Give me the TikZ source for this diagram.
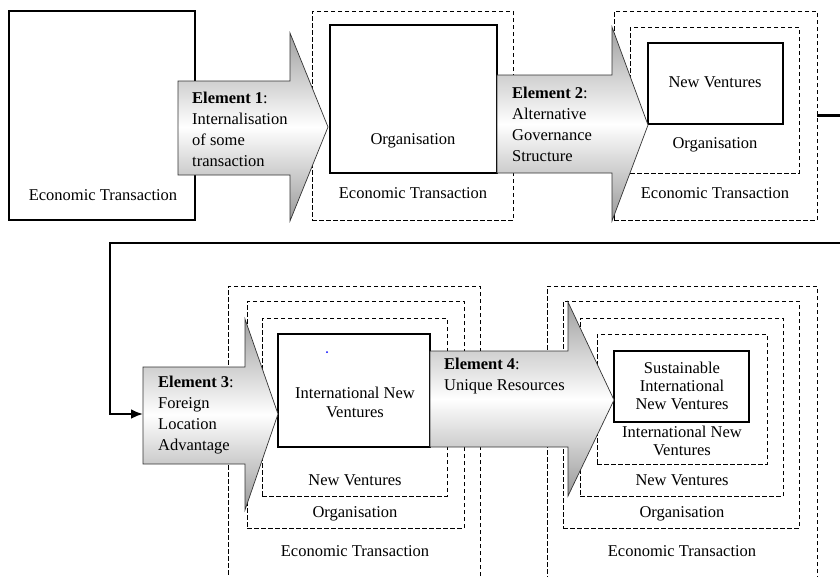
\documentclass[tikz,border=0pt]{standalone}
\usepackage{fontspec}
\setmainfont{Liberation Serif}
\usetikzlibrary{arrows.meta}
\tikzset{
  solidbox/.style={draw, line width=1.1pt, inner sep=0pt},
  dashbox/.style={draw, line width=0.9pt, dash pattern=on 4.5pt off 2.5pt, inner sep=0pt},
  lbl/.style={font=\fontsize{16.5}{19}\selectfont, inner sep=0pt, align=center},
  atxt/.style={font=\fontsize{16.5}{21}\selectfont, inner sep=0pt, align=left, anchor=west},
  arrowbody/.style={top color=gray!75, bottom color=gray!80, middle color=white,
    draw=gray!40!black, line width=0.7pt},
  link/.style={line width=2.4pt, -{Latex[length=12pt,width=10pt]}}
}

\begin{document}
\begin{tikzpicture}[x=1pt, y=-1pt]
    \useasboundingbox (0,0) rectangle (840,576);

    % Top row: the boxes
    \node[solidbox, minimum width=186, minimum height=209] (et1) at (102,115.5) {};
    \node[lbl] (et1txt) at (103,195) {Economic Transaction};

    \node[dashbox, minimum width=201, minimum height=209] (et2) at (412.5,115.5) {};
    \node[solidbox, minimum width=167, minimum height=148] (org2) at (413.5,99) {};
    \node[lbl] (org2txt) at (413,141) {Organisation};
    \node[lbl] (et2txt) at (413,193) {Economic Transaction};

    \node[dashbox, minimum width=203, minimum height=209] (et3) at (715.5,115.5) {};
    \node[dashbox, minimum width=169, minimum height=146] (org3) at (714.5,100) {};
    \node[solidbox, minimum width=135, minimum height=81] (nv3) at (715.5,83.5) {};
    \node[lbl] (nv3txt) at (715,82) {New Ventures};
    \node[lbl] (org3txt) at (715,145) {Organisation};
    \node[lbl] (et3txt) at (715,193) {Economic Transaction};

    % Bottom row: the boxes (open below the page edge)
    \node[dashbox, minimum width=252, minimum height=304] (et4) at (354,438) {};
    \node[dashbox, minimum width=217, minimum height=227] (org4) at (355.5,414.5) {};
    \node[dashbox, minimum width=185, minimum height=178] (nv4) at (354.5,407) {};
    \node[solidbox, minimum width=152, minimum height=113] (inv4) at (354,390.5) {};
    \node[lbl] (inv4txt) at (355,402) {International New\\Ventures};
    \node[lbl] (nv4txt) at (355,480) {New Ventures};
    \node[lbl] (org4txt) at (355,514) {Organisation};
    \node[lbl] (et4txt) at (355,551) {Economic Transaction};
    \fill[blue] (327,352) circle (1);

    \node[dashbox, minimum width=270, minimum height=304] (et5) at (682,438) {};
    \node[dashbox, minimum width=236, minimum height=227] (org5) at (681,414.5) {};
    \node[dashbox, minimum width=203, minimum height=178] (nv5) at (681.5,407) {};
    \node[dashbox, minimum width=170, minimum height=130] (inv5) at (682,399) {};
    \node[solidbox, minimum width=135, minimum height=71] (sinv5) at (681.5,386.5) {};
    \node[lbl, font=\fontsize{16.5}{18}\selectfont] (sinv5txt) at (682,386) {Sustainable\\International\\New Ventures};
    \node[lbl, font=\fontsize{16.5}{18}\selectfont] (inv5txt) at (682,441) {International New\\Ventures};
    \node[lbl] (nv5txt) at (682,480) {New Ventures};
    \node[lbl] (org5txt) at (682,514) {Organisation};
    \node[lbl] (et5txt) at (682,551) {Economic Transaction};

    % Block arrows for the four elements
    \shade[arrowbody] (178,81) -- (290,81) -- (290,33) -- (328,127) -- (290,221) -- (290,175) -- (178,175) -- cycle;
    \node[atxt] (el1) at (192,129.5) {\textbf{Element 1}:\\Internalisation\\of some\\transaction};

    \shade[arrowbody] (497,75) -- (612,75) -- (612,27) -- (648,125) -- (612,221) -- (612,173) -- (497,173) -- cycle;
    \node[atxt] (el2) at (512,124) {\textbf{Element 2}:\\Alternative\\Governance\\Structure};

    \shade[arrowbody] (143,367) -- (245,367) -- (245,319) -- (278,414) -- (245,510) -- (245,464) -- (143,464) -- cycle;
    \node[atxt] (el3) at (158,415) {\textbf{Element 3}:\\Foreign\\Location\\Advantage};

    \shade[arrowbody] (430,351) -- (568,351) -- (568,302) -- (614,400) -- (568,496) -- (568,447) -- (430,447) -- cycle;
    \node[atxt] (el4) at (444,376.5) {\textbf{Element 4}:\\Unique Resources};

    % Link from the top row down to element 3
    \coordinate (turn) at (110,243);
    \coordinate (a3tail) at (143,414);
    \draw[link] (et3.east) -- (850,115.5) |- (turn) |- (a3tail);

\end{tikzpicture}
\end{document}
